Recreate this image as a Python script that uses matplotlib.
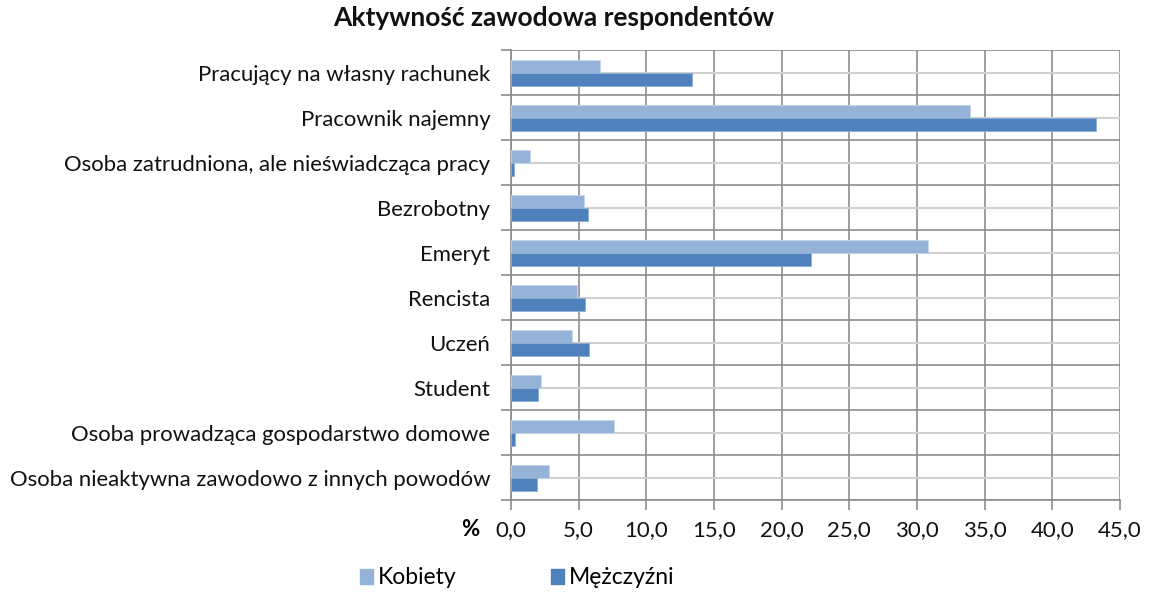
import numpy as np
from matplotlib import pyplot as plt
from matplotlib.ticker import FuncFormatter
from matplotlib.patches import Patch

categories = [
    "Pracujący na własny rachunek",
    "Pracownik najemny",
    "Osoba zatrudniona, ale nieświadcząca pracy",
    "Bezrobotny",
    "Emeryt",
    "Rencista",
    "Uczeń",
    "Student",
    "Osoba prowadząca gospodarstwo domowe",
    "Osoba nieaktywna zawodowo z innych powodów",
]
kobiety = [6.6, 33.9, 1.4, 5.4, 30.8, 4.9, 4.5, 2.2, 7.6, 2.8]
mezczyzni = [13.4, 43.2, 0.2, 5.7, 22.2, 5.5, 5.8, 2.0, 0.3, 1.9]
series_names = ["Kobiety", "Mężczyźni"]
x_ticks = np.arange(0, 45.1, 5)

plt.rcParams['font.family'] = ['Lato', 'DejaVu Sans']

c_k = "#95B3D7"
c_m = "#4F81BD"
grid_dark = "#8C8C8C"
grid_light = "#D0D0D0"

fig = plt.figure(figsize=(11.49, 5.93), dpi=100)
ax = fig.add_axes([0.4447, 0.156, 0.5301, 0.7589])

y = np.arange(len(categories))
h = 0.29
ax.barh(y - h / 2, kobiety, height=h, color=c_k, edgecolor="#C6D6EA", linewidth=0.6, zorder=3)
ax.barh(y + h / 2, mezczyzni, height=h, color=c_m, edgecolor="#8FAED3", linewidth=0.6, zorder=3)

ax.set_xlim(0, 45)
ax.set_ylim(len(categories) - 0.5, -0.5)

ax.set_xticks(x_ticks)
ax.xaxis.set_major_formatter(FuncFormatter(lambda v, p: f"{v:.1f}".replace(".", ",")))
ax.set_yticks(y)
ax.set_yticklabels(categories)
ax.set_yticks(np.arange(len(categories) + 1) - 0.5, minor=True)

ax.tick_params(axis="y", which="major", length=0, pad=15, labelsize=15.9, labelcolor="#111111")
ax.tick_params(axis="y", which="minor", length=7, width=1.2, color=grid_dark)
ax.tick_params(axis="x", length=7, width=1.2, color=grid_dark, pad=7, labelsize=16, labelcolor="#111111")

ax.grid(axis="x", which="major", color=grid_dark, linewidth=1.2, zorder=0)
ax.grid(axis="y", which="minor", color=grid_dark, linewidth=1.2, zorder=0)
ax.grid(axis="y", which="major", color=grid_light, linewidth=1.5, zorder=1)
ax.set_axisbelow(True)

for side in ["top", "right"]:
    ax.spines[side].set_visible(False)
for side in ["left", "bottom"]:
    ax.spines[side].set_color(grid_dark)
    ax.spines[side].set_linewidth(1.2)

fig.text(470 / 1149, 1 - 529 / 593, "%", fontsize=16, fontweight="bold", ha="center", va="center")
fig.text(554 / 1149, 1 - 18 / 593, "Aktywność zawodowa respondentów", fontsize=19, fontweight="bold",
         ha="center", va="center", color="#111111")

handles = [Patch(color=c_k), Patch(color=c_m)]
fig.legend(handles, series_names, loc="center", bbox_to_anchor=(517 / 1149, 1 - 578 / 593), ncol=2,
           frameon=False, fontsize=16.5, handlelength=0.6, handleheight=0.6, handletextpad=0.2,
           columnspacing=4.1)

plt.savefig("out.png", dpi=100)
